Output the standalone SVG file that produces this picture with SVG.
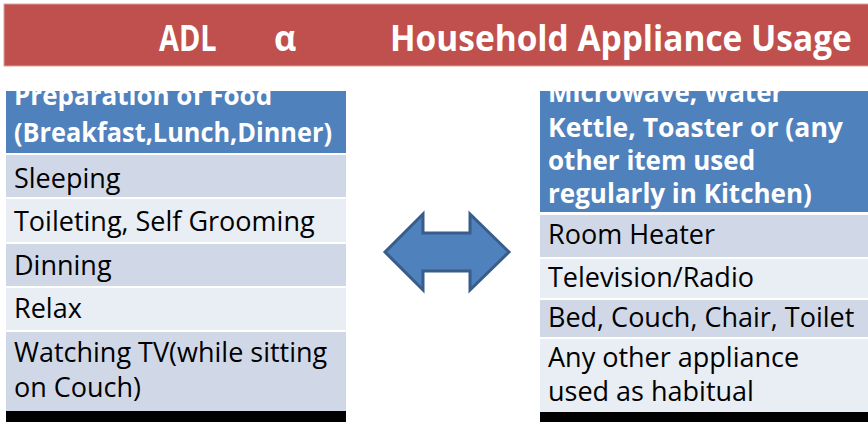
<svg xmlns="http://www.w3.org/2000/svg" width="868" height="422" viewBox="0 0 868 422">
  <defs>
    <style>
      .hdr { fill: #4F81BD; }
      .rowA { fill: #D0D8E8; }
      .rowB { fill: #E9EDF4; }
      .bar { fill: #000000; }
      .htxt { font-family: "Open Sans", "DejaVu Sans", sans-serif; font-weight: bold; font-size: 26px; fill: #FFFFFF; }
      .btxt { font-family: "Open Sans", "DejaVu Sans", sans-serif; font-size: 27px; fill: #000000; }
      .ttxt { font-family: "Open Sans", "DejaVu Sans", sans-serif; font-weight: bold; font-size: 36px; fill: #FFFFFF; }
    </style>
    <clipPath id="clipTables"><rect x="0" y="91" width="868" height="331"/></clipPath>
  </defs>

  <rect x="0" y="0" width="868" height="422" fill="#FFFFFF"/>

  <!-- title band -->
  <g id="title">
    <rect x="4" y="4" width="870" height="62" fill="#C0504D" stroke="#D9A3A1" stroke-width="1"/>
    <text class="ttxt" transform="translate(159,51) scale(0.86,1)" textLength="67" lengthAdjust="spacingAndGlyphs">ADL</text>
    <text class="ttxt" transform="translate(274,51) scale(0.86,1)" textLength="26" lengthAdjust="spacingAndGlyphs">α</text>
    <text class="ttxt" transform="translate(390,51) scale(0.86,1)" textLength="537" lengthAdjust="spacingAndGlyphs">Household Appliance Usage</text>
  </g>

  <!-- activities of daily living -->
  <g id="adl-table" clip-path="url(#clipTables)">
    <rect class="hdr" x="6" y="80" width="340" height="73"/>
    <rect class="rowA" x="6" y="155" width="340" height="42"/>
    <rect class="rowB" x="6" y="199" width="340" height="43"/>
    <rect class="rowA" x="6" y="244" width="340" height="42"/>
    <rect class="rowB" x="6" y="288" width="340" height="42"/>
    <rect class="rowA" x="6" y="332" width="340" height="79"/>
    <rect class="bar" x="6" y="411" width="340" height="11"/>
    <text class="htxt" x="14" y="105">Preparation of Food</text>
    <text class="htxt" x="14" y="142" textLength="318" lengthAdjust="spacingAndGlyphs">(Breakfast,Lunch,Dinner)</text>
    <text class="btxt" x="14" y="188">Sleeping</text>
    <text class="btxt" x="14" y="231">Toileting, Self Grooming</text>
    <text class="btxt" x="14" y="275">Dinning</text>
    <text class="btxt" x="14" y="318">Relax</text>
    <text class="btxt" x="14" y="362">Watching TV(while sitting</text>
    <text class="btxt" x="14" y="397">on Couch)</text>
  </g>

  <!-- household appliances -->
  <g id="appliance-table" clip-path="url(#clipTables)">
    <rect class="hdr" x="540" y="80" width="330" height="132"/>
    <rect class="rowA" x="540" y="215" width="330" height="42"/>
    <rect class="rowB" x="540" y="259" width="330" height="39"/>
    <rect class="rowA" x="540" y="300" width="330" height="37"/>
    <rect class="rowB" x="540" y="339" width="330" height="73"/>
    <rect class="bar" x="540" y="412" width="330" height="10"/>
    <text class="htxt" x="548" y="102">Microwave, Water</text>
    <text class="htxt" x="548" y="137" textLength="295" lengthAdjust="spacingAndGlyphs">Kettle, Toaster or (any</text>
    <text class="htxt" x="548" y="170">other item used</text>
    <text class="htxt" x="548" y="203">regularly in Kitchen)</text>
    <text class="btxt" x="548" y="244">Room Heater</text>
    <text class="btxt" x="548" y="287">Television/Radio</text>
    <text class="btxt" x="548" y="327">Bed, Couch, Chair, Toilet</text>
    <text class="btxt" x="548" y="367">Any other appliance</text>
    <text class="btxt" x="548" y="401">used as habitual</text>
  </g>

  <!-- two-way link between the tables -->
  <g id="connectors">
    <path d="M385,252 L423,214 L423,233 L470,233 L470,214 L509,252 L470,290 L470,271 L423,271 L423,290 Z" fill="#4F81BD" stroke="#385D8A" stroke-width="3" stroke-linejoin="miter"/>
  </g>
</svg>
